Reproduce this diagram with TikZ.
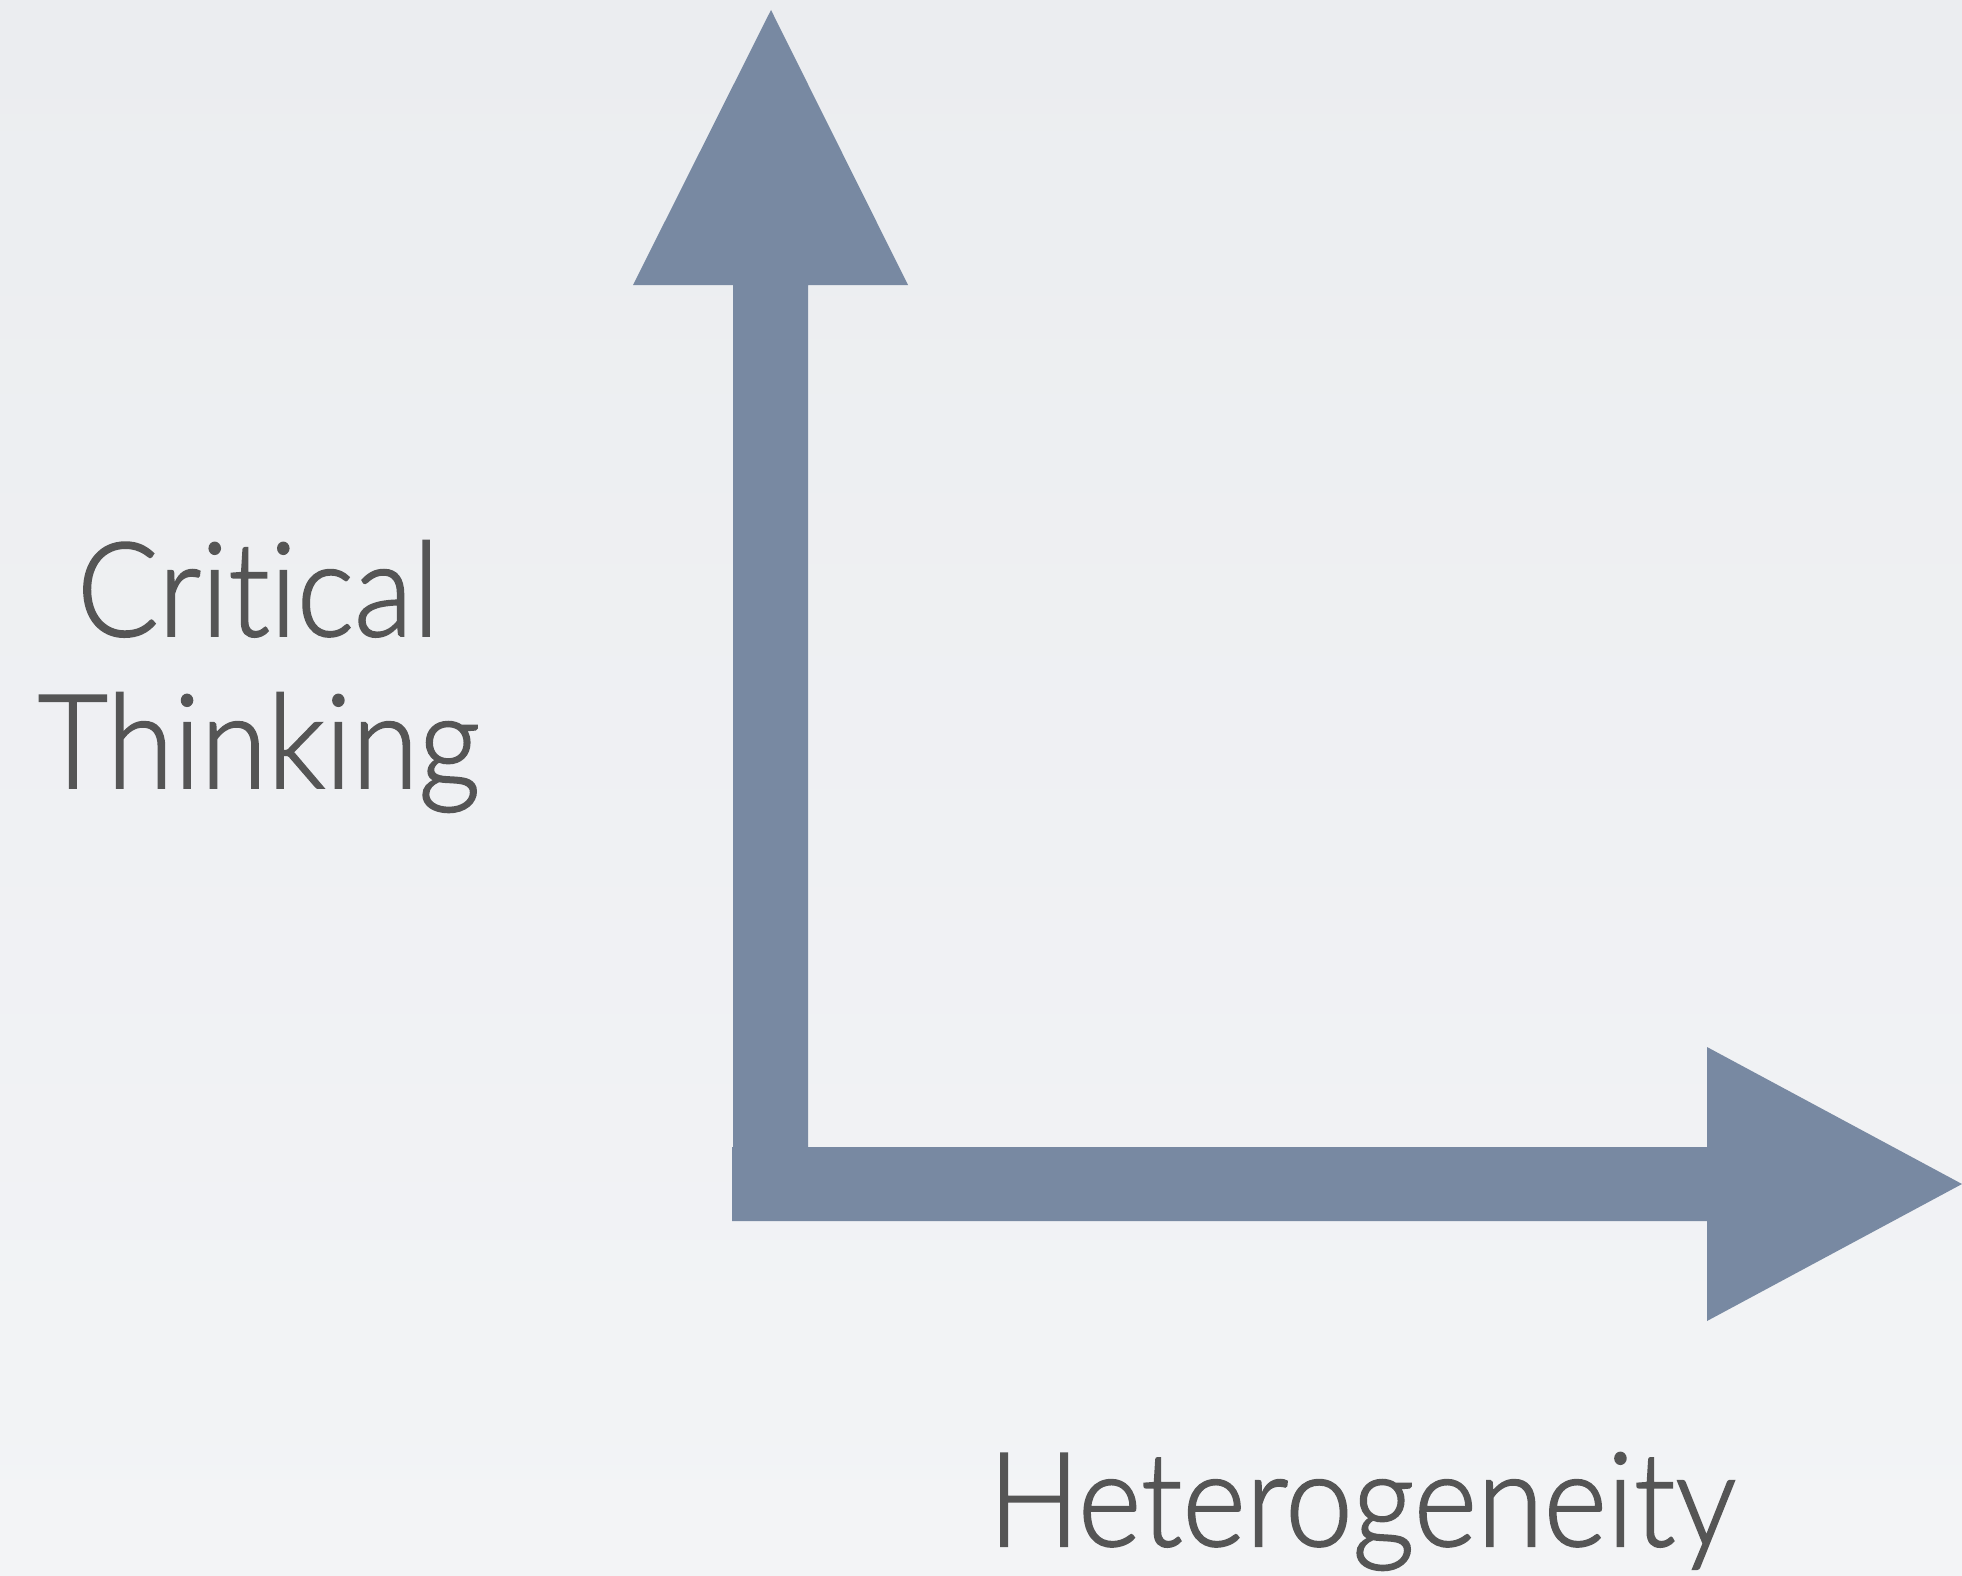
\documentclass[tikz,border=0pt]{standalone}
\usepackage{fontspec}
\IfFontExistsTF{Lato Light}{\newfontfamily\labelfont{Lato Light}[Ligatures=NoCommon,FakeBold=1.5]}{\newfontfamily\labelfont{Lato}[Ligatures=NoCommon]}
\definecolor{bgtop}{HTML}{EBEDF0}
\definecolor{bgbot}{HTML}{F3F4F6}
\definecolor{arrowc}{HTML}{7889A2}
\definecolor{textc}{HTML}{555555}
\newcommand{\narrowtext}[1]{\scalebox{0.925}[1]{#1}}
\begin{document}
\begin{tikzpicture}[x=1pt,y=-1pt,
  label/.style={text=textc,inner sep=0pt,anchor=base,font=\labelfont\fontsize{131}{152}\selectfont}]
\useasboundingbox (0,0) rectangle (1962,1576);
\shade[top color=bgtop,bottom color=bgbot] (0,0) rectangle (1962,1576);
\fill[arrowc] (771,10) -- (908,285) -- (808,285) -- (808,1147) -- (1707,1147)
  -- (1707,1047) -- (1962,1184) -- (1707,1321) -- (1707,1221) -- (732,1221)
  -- (732,1147) -- (733,1147) -- (733,285) -- (633,285) -- cycle;
\node[label] (crit) at (258,636) {\narrowtext{Critical}};
\node[label] (think) at (259,788) {\narrowtext{Thinking}};
\node[label] (het) at (1362,1546) {\narrowtext{Heterogeneity}};
\end{tikzpicture}
\end{document}
